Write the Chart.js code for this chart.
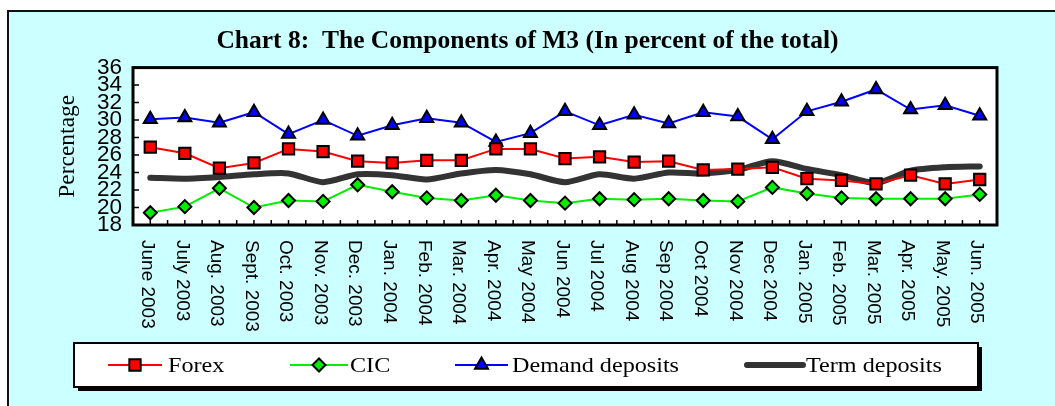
<!DOCTYPE html>
<html>
<head>
<meta charset="utf-8">
<script src="https://cdn.jsdelivr.net/npm/chart.js@4.4.1/dist/chart.umd.min.js"></script>
<style>
  html, body { margin: 0; padding: 0; background: #ffffff; }
  #wrap { width: 1055px; height: 406px; }
</style>
</head>
<body>
<div id="wrap"><canvas id="grafico" width="1055" height="406"></canvas></div>
<script>
// Datos (porcentaje del total de M3)
const meses = ["June 2003", "July 2003", "Aug. 2003", "Sept. 2003", "Oct. 2003", "Nov. 2003",
               "Dec. 2003", "Jan. 2004", "Feb. 2004", "Mar. 2004", "Apr. 2004", "May 2004",
               "Jun 2004", "Jul 2004", "Aug 2004", "Sep 2004", "Oct 2004", "Nov 2004",
               "Dec 2004", "Jan. 2005", "Feb. 2005", "Mar. 2005", "Apr. 2005", "May. 2005", "Jun. 2005"];

const forex   = [26.9, 26.2, 24.5, 25.1, 26.7, 26.4, 25.3, 25.1, 25.4, 25.4, 26.7, 26.7, 25.6,
                 25.8, 25.2, 25.3, 24.3, 24.4, 24.6, 23.3, 23.1, 22.7, 23.7, 22.7, 23.2];
const cic     = [19.4, 20.1, 22.2, 20.0, 20.8, 20.7, 22.6, 21.8, 21.1, 20.8, 21.4, 20.8, 20.5,
                 21.0, 20.9, 21.0, 20.8, 20.7, 22.3, 21.6, 21.1, 21.0, 21.0, 21.0, 21.5];
const demand  = [30.1, 30.3, 29.7, 30.9, 28.4, 30.0, 28.2, 29.4, 30.2, 29.7, 27.5, 28.5, 31.0,
                 29.4, 30.6, 29.6, 30.9, 30.4, 27.8, 31.0, 32.1, 33.5, 31.2, 31.7, 30.5];
const term    = [23.4, 23.3, 23.5, 23.8, 23.9, 22.9, 23.8, 23.7, 23.2, 23.9, 24.3, 23.8, 22.9,
                 23.8, 23.3, 24.0, 23.9, 24.3, 25.3, 24.4, 23.7, 22.8, 24.2, 24.6, 24.7];

const ejeMin = 18, ejeMax = 36, ejePaso = 2;
const nombresSeries = ["Forex", "CIC", "Demand deposits", "Term deposits"];

const FONDO = "rgb(204,255,255)";
const SANS = "'Liberation Sans', Arial, sans-serif";
const SERIF = "'Liberation Serif', 'Times New Roman', serif";

// texto estirado horizontalmente (el original esta ensanchado)
function textoEstirado(ctx, txt, x, y, factor){
    ctx.save();
    ctx.translate(x, y);
    ctx.scale(factor, 1);
    ctx.fillText(txt, 0, 0);
    ctx.restore();
}

const pluginMarco = {
    id: "marco",
    beforeDraw(chart){
        const ctx = chart.ctx;
        const a = chart.chartArea;
        ctx.save();
        ctx.fillStyle = "#ffffff";
        ctx.fillRect(0, 0, chart.width, chart.height);
        ctx.fillStyle = FONDO;
        ctx.fillRect(8, 11, chart.width - 8, chart.height - 11);
        ctx.strokeStyle = "#111111";
        ctx.lineWidth = 2;
        ctx.beginPath();
        ctx.moveTo(8, chart.height);
        ctx.lineTo(8, 11);
        ctx.lineTo(chart.width, 11);
        ctx.stroke();
        //Area del grafico en blanco
        ctx.fillStyle = "#ffffff";
        ctx.fillRect(a.left, a.top, a.right - a.left, a.bottom - a.top);
        ctx.restore();
    },
    beforeDatasetsDraw(chart){
        const ctx = chart.ctx;
        const a = chart.chartArea;
        const x = chart.scales.x, y = chart.scales.y;
        ctx.save();
        ctx.strokeStyle = "#000000";
        ctx.lineWidth = 1.5;
        ctx.beginPath();
        //Marcas del eje Y hacia adentro
        for(let v = ejeMin; v <= ejeMax; v += ejePaso){
            const py = y.getPixelForValue(v);
            ctx.moveTo(a.left, py);
            ctx.lineTo(a.left + 6, py);
        }
        //Marcas del eje X: centros y limites
        const paso = x.getPixelForValue(1) - x.getPixelForValue(0);
        for(let i = 0; i < meses.length; i++){
            const px = x.getPixelForValue(i);
            ctx.moveTo(px, a.bottom);
            ctx.lineTo(px, a.bottom - 5);
            ctx.moveTo(px + paso / 2, a.bottom);
            ctx.lineTo(px + paso / 2, a.bottom - 5);
        }
        ctx.stroke();
        ctx.restore();
    },
    afterDraw(chart){
        const ctx = chart.ctx;
        const a = chart.chartArea;
        const x = chart.scales.x;
        ctx.save();
        ctx.strokeStyle = "#000000";
        ctx.lineWidth = 3;
        ctx.strokeRect(a.left, a.top, a.right - a.left, a.bottom - a.top);

        //Etiquetas del eje X giradas hacia abajo
        ctx.fillStyle = "#000000";
        ctx.font = "19px " + SANS;
        ctx.textAlign = "left";
        ctx.textBaseline = "middle";
        meses.forEach(function(m, i){
            const px = x.getPixelForValue(i) - 3;
            ctx.save();
            ctx.translate(px, a.bottom + 15);
            ctx.rotate(Math.PI / 2);
            ctx.fillText(m, 0, 0);
            ctx.restore();
        });

        //Leyenda
        ctx.fillStyle = "#000000";
        ctx.fillRect(78, 347, 904, 44);
        ctx.fillStyle = "#ffffff";
        ctx.fillRect(74, 343, 904, 44);
        ctx.lineWidth = 2;
        ctx.strokeStyle = "#000000";
        ctx.strokeRect(74, 343, 904, 44);

        const items = [
            {x1: 108, x2: 162, t: 168},
            {x1: 290, x2: 348, t: 350},
            {x1: 455, x2: 508, t: 512},
            {x1: 747, x2: 803, t: 806}
        ];
        const yl = 365;
        chart.data.datasets.forEach(function(ds, i){
            const it = items[i];
            ctx.strokeStyle = ds.borderColor;
            ctx.lineWidth = ds.borderWidth;
            ctx.lineCap = ds.borderWidth > 3 ? "round" : "butt";
            ctx.beginPath();
            ctx.moveTo(it.x1, yl);
            ctx.lineTo(it.x2, yl);
            ctx.stroke();
            if(ds.pointRadius > 0){
                ctx.fillStyle = ds.pointBackgroundColor;
                ctx.strokeStyle = ds.pointBorderColor;
                ctx.lineWidth = ds.pointBorderWidth;
                Chart.helpers.drawPoint(ctx, {
                    pointStyle: ds.pointStyle,
                    radius: ds.pointRadius,
                    rotation: 0,
                    borderWidth: ds.pointBorderWidth
                }, (it.x1 + it.x2) / 2, yl);
            }
            ctx.fillStyle = "#000000";
            ctx.font = "21px " + SERIF;
            ctx.textAlign = "left";
            ctx.textBaseline = "middle";
            textoEstirado(ctx, nombresSeries[i], it.t, yl + 1, 1.15);
        });
        ctx.restore();
    }
};

const canvas = document.getElementById("grafico").getContext("2d");
const grafico = new Chart(canvas, {
    type: "line",
    data: {
        labels: meses,
        datasets: [
            {
                label: nombresSeries[0],
                data: forex,
                borderColor: "#ff0000",
                borderWidth: 2,
                pointStyle: "rect",
                pointRadius: 8,
                pointBackgroundColor: "#ff0000",
                pointBorderColor: "#000000",
                pointBorderWidth: 2
            },
            {
                label: nombresSeries[1],
                data: cic,
                borderColor: "#00ee00",
                borderWidth: 2,
                pointStyle: "rectRot",
                pointRadius: 6.5,
                pointBackgroundColor: "#00ee00",
                pointBorderColor: "#000000",
                pointBorderWidth: 2
            },
            {
                label: nombresSeries[2],
                data: demand,
                borderColor: "#0000ff",
                borderWidth: 2,
                pointStyle: "triangle",
                pointRadius: 7.5,
                pointBackgroundColor: "#0000ff",
                pointBorderColor: "#000000",
                pointBorderWidth: 2
            },
            {
                label: nombresSeries[3],
                data: term,
                borderColor: "#333333",
                borderWidth: 6,
                borderCapStyle: "round",
                pointRadius: 0,
                tension: 0.25
            }
        ]
    },
    options: {
        responsive: false,
        animation: false,
        layout: { padding: { left: 10, right: 10, top: 0, bottom: 71 } },
        plugins: {
            legend: { display: false },
            tooltip: { enabled: false },
            title: {
                display: true,
                text: "Chart 8:  The Components of M3 (In percent of the total)",
                color: "#000000",
                font: { family: SERIF, size: 25.5, weight: "bold", lineHeight: 1.2 },
                padding: { top: 26, bottom: 11 }
            }
        },
        scales: {
            x: {
                offset: true,
                grid: { display: false, drawTicks: false },
                border: { display: false },
                ticks: { display: false },
                afterFit: function(scale){ scale.height = 110; }
            },
            y: {
                min: ejeMin,
                max: ejeMax,
                grid: { display: false, drawTicks: false },
                border: { display: false },
                ticks: {
                    stepSize: ejePaso,
                    autoSkip: false,
                    padding: 11,
                    color: "#000000",
                    font: { family: SANS, size: 22.5, lineHeight: 0.8 }
                },
                title: {
                    display: true,
                    text: "Percentage",
                    color: "#000000",
                    font: { family: SERIF, size: 23.5, lineHeight: 1.2 },
                    padding: { top: 44, bottom: 0 }
                },
                afterFit: function(scale){ scale.width = 123; }
            },
            //eje derecho vacio, solo reserva el margen del cuadro
            margenDerecho: {
                type: "linear",
                position: "right",
                min: ejeMin,
                max: ejeMax,
                grid: { display: false, drawTicks: false },
                border: { display: false },
                ticks: { display: false },
                afterFit: function(scale){ scale.width = 48; }
            }
        }
    },
    plugins: [pluginMarco]
});
</script>
</body>
</html>
